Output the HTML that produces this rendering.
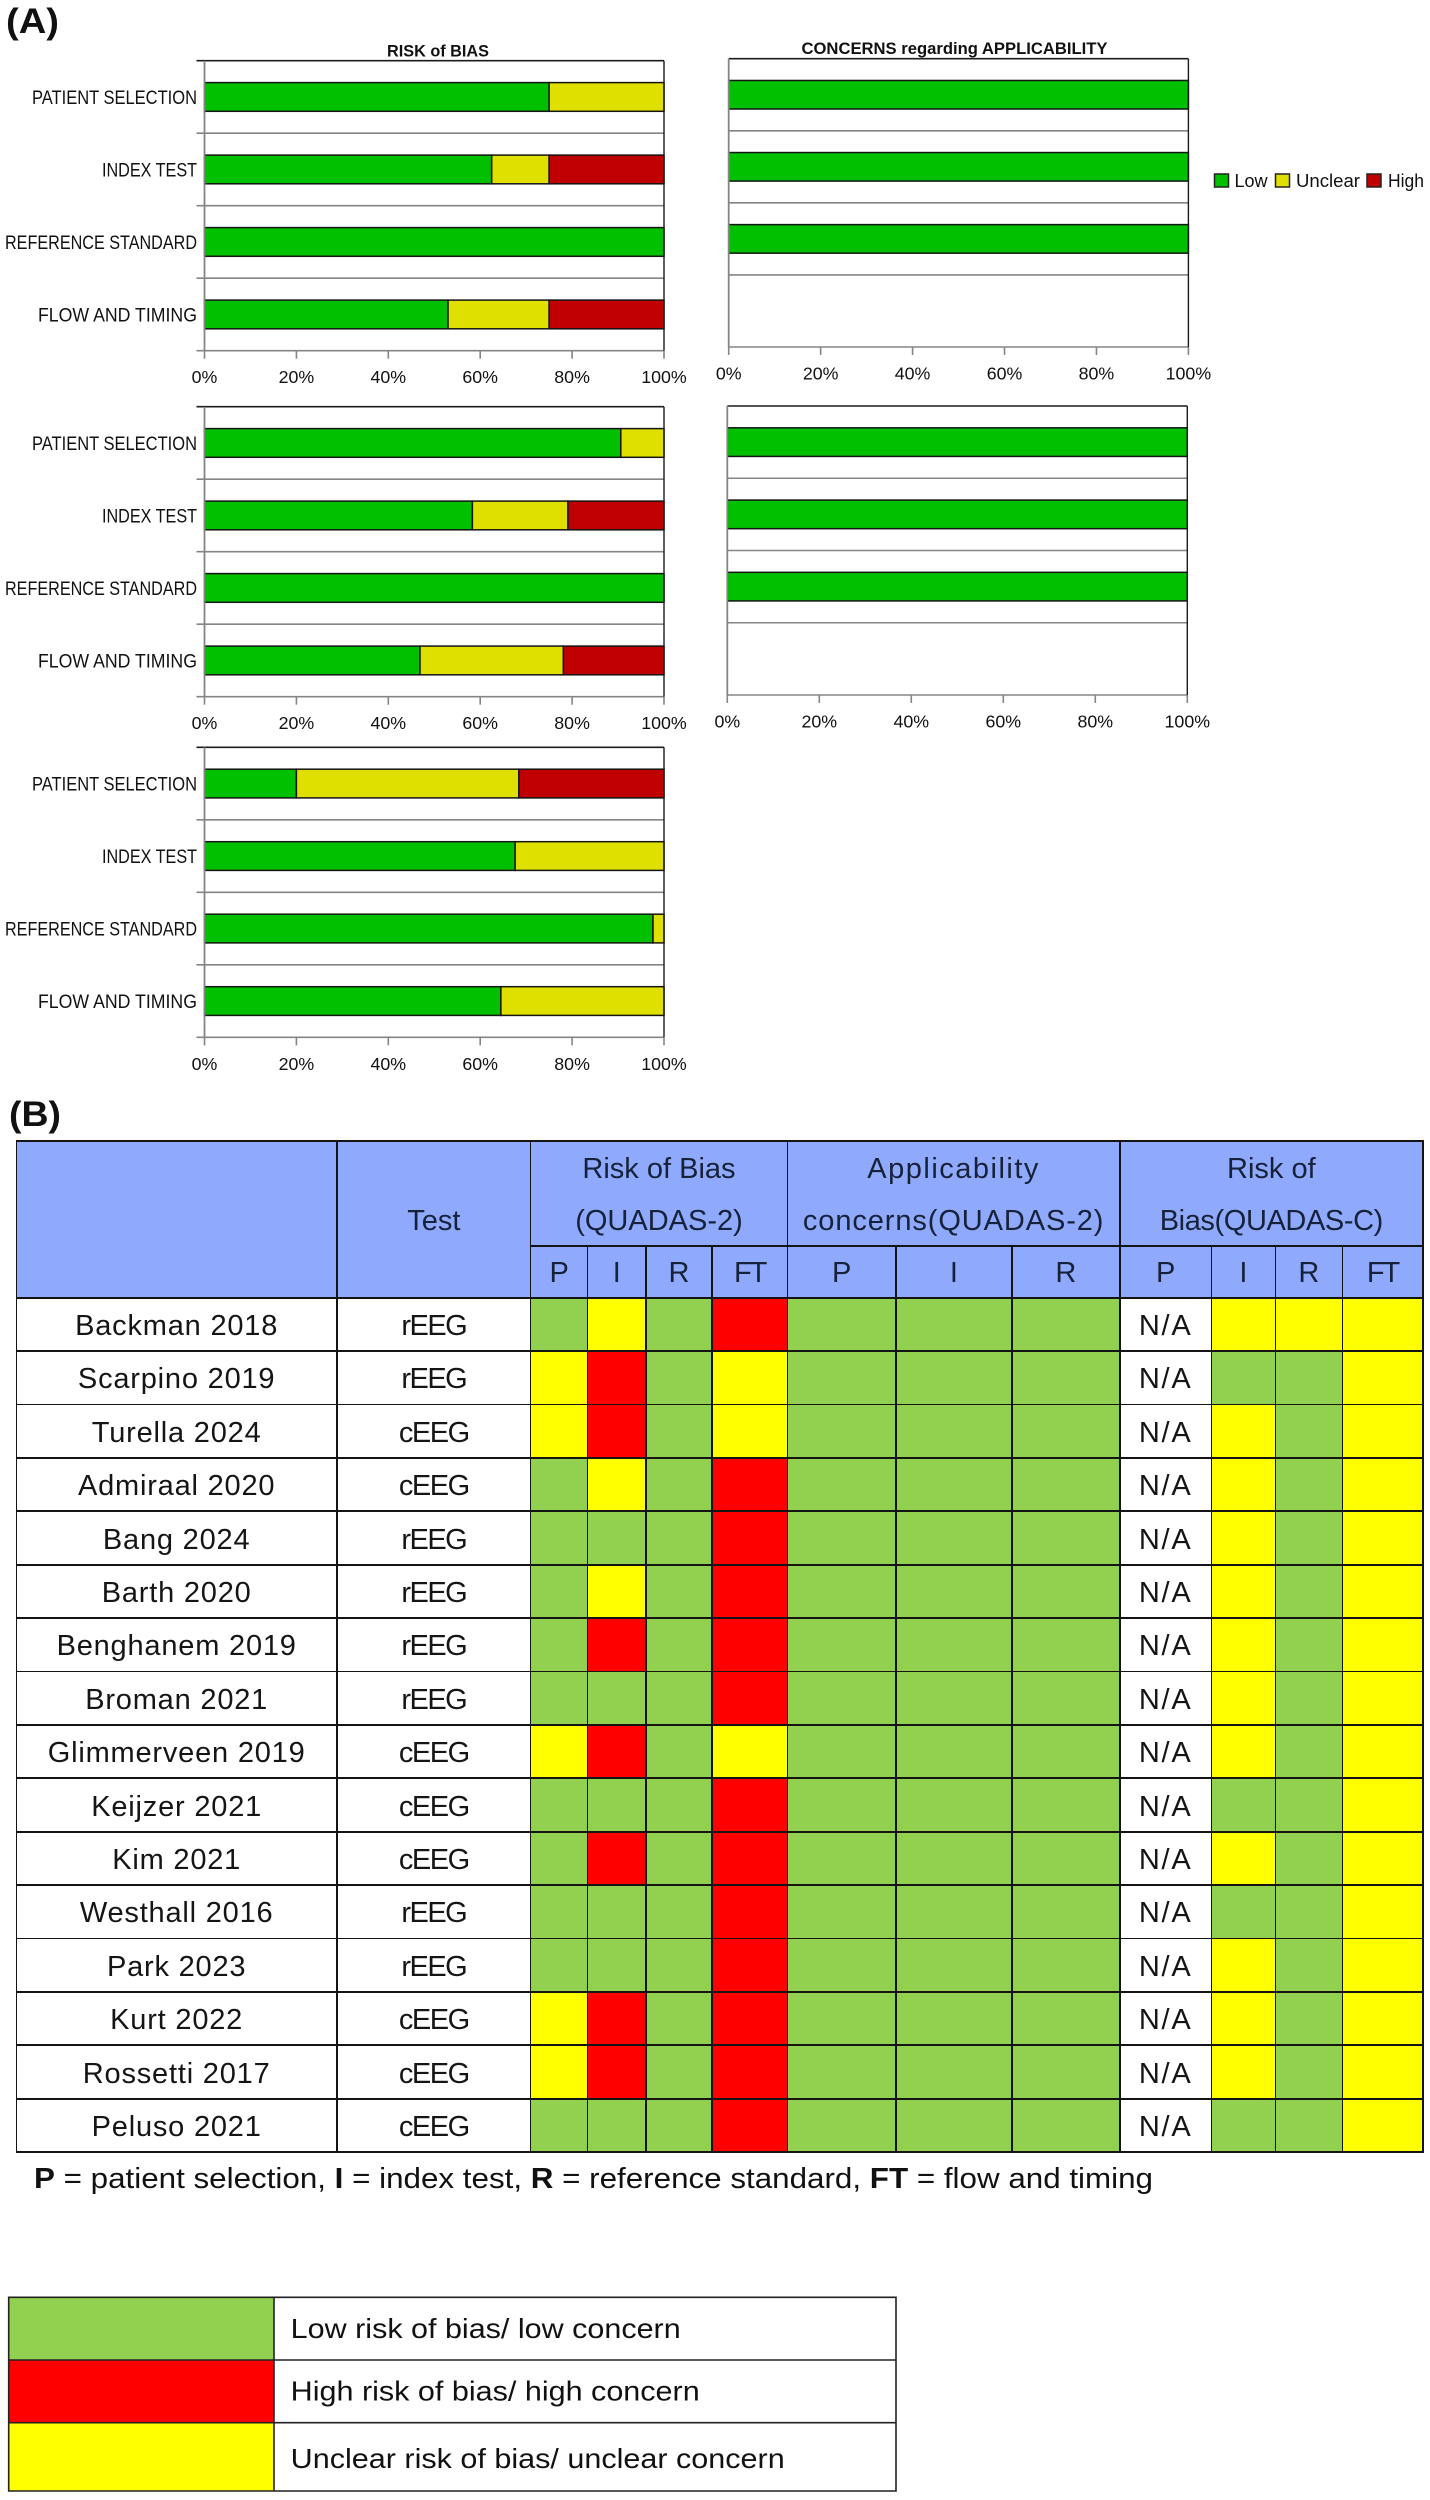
<!DOCTYPE html>
<html lang="en">
<head>
<meta charset="utf-8">
<title>Risk of bias and applicability assessment</title>
<style>
  html, body { margin: 0; padding: 0; background: #fff; }
  #page { position: relative; width: 1430px; height: 2500px; overflow: hidden; background: #fff;
          font-family: "Liberation Sans", sans-serif; color: #111; }
  #overlay { position: absolute; left: 0; top: 0; }
  #overlay text { font-family: "Liberation Sans", sans-serif; fill: #111; }
  #quality-grid { position: absolute; left: 15.5px; top: 1140px; display: inline-grid;
    padding: 1.9px 1.5px 1.9px 1.5px; background: #141414;
    column-gap: 1.4px; row-gap: 1.8px;
    grid-template-columns: 319.3px 192.2px 55.7px 56.9px 64.6px 74.1px 107.1px 114.6px 106.6px 90.3px 62.4px 65.6px 79.1px;
    grid-template-rows: 102.9px 50.2px repeat(16, 51.61px); }
  .cell { display: flex; align-items: center; justify-content: center; text-align: center;
    box-sizing: border-box; padding-top: 3px;
    font-size: 29px; line-height: 52px; white-space: nowrap; overflow: hidden; color: #151515; }
  .head { background: #8faafc; color: #16213a; }
  .name { background: #fff; letter-spacing: 0.8px; }
  .test { background: #fff; letter-spacing: -1.5px; }
  .na { background: #fff; letter-spacing: 1.8px; }
  .L { background: #92d050; }
  .H { background: #ff0000; }
  .U { background: #ffff00; }
  .sp1 { letter-spacing: 1.5px; }
  .sp2 { letter-spacing: 0.9px; }
  .sp3 { letter-spacing: -0.4px; }
  .ft { letter-spacing: -2px; }
</style>
</head>
<body>
<div id="page">
  <svg id="overlay" width="1430" height="2500" viewBox="0 0 1430 2500">
    <text x="6" y="33" font-size="35" font-weight="700" textLength="53" lengthAdjust="spacingAndGlyphs">(A)</text>
    <text x="9" y="1126" font-size="35" font-weight="700" textLength="52" lengthAdjust="spacingAndGlyphs">(B)</text>
    <text x="387" y="56.5" font-size="17" font-weight="700" textLength="102" lengthAdjust="spacingAndGlyphs">RISK of BIAS</text>
    <text x="801.5" y="54" font-size="17" font-weight="700" textLength="306" lengthAdjust="spacingAndGlyphs">CONCERNS regarding APPLICABILITY</text>

    <g>
      <rect x="1214.5" y="174" width="14" height="13" fill="#00c000" stroke="#222" stroke-width="1.5"/>
      <text x="1234.5" y="187" font-size="18">Low</text>
      <rect x="1275.5" y="174" width="14" height="13" fill="#e0e000" stroke="#222" stroke-width="1.5"/>
      <text x="1296" y="187" font-size="18" textLength="64" lengthAdjust="spacingAndGlyphs">Unclear</text>
      <rect x="1367" y="174" width="14" height="13" fill="#c00000" stroke="#222" stroke-width="1.5"/>
      <text x="1388" y="187" font-size="18" textLength="36" lengthAdjust="spacingAndGlyphs">High</text>
    </g>

    <text x="34" y="2188" font-size="29" textLength="1119" lengthAdjust="spacingAndGlyphs"><tspan font-weight="700">P</tspan> = patient selection, <tspan font-weight="700">I</tspan> = index test, <tspan font-weight="700">R</tspan> = reference standard, <tspan font-weight="700">FT</tspan> = flow and timing</text>

    <g>
      <rect x="8.7" y="2297.3" width="265.3" height="62.7" fill="#92d050"/>
      <rect x="8.7" y="2360" width="265.3" height="62.7" fill="#ff0000"/>
      <rect x="8.7" y="2422.7" width="265.3" height="68.3" fill="#ffff00"/>
      <path d="M8.7 2297.3H896V2491H8.7ZM8.7 2360H896M8.7 2422.7H896M274 2297.3V2491" fill="none" stroke="#222" stroke-width="1.6"/>
      <text x="290.7" y="2338" font-size="27.5" textLength="390" lengthAdjust="spacingAndGlyphs">Low risk of bias/ low concern</text>
      <text x="290.7" y="2400.7" font-size="27.5" textLength="409" lengthAdjust="spacingAndGlyphs">High risk of bias/ high concern</text>
      <text x="290.7" y="2468" font-size="27.5" textLength="494" lengthAdjust="spacingAndGlyphs">Unclear risk of bias/ unclear concern</text>
    </g>
    <g id="charts"></g>
  </svg>

  <div id="quality-grid">
    <div class="cell head" style="grid-column:1;grid-row:1/3"></div>
    <div class="cell head" style="grid-column:2;grid-row:1/3">Test</div>
    <div class="cell head" style="grid-column:3/7;grid-row:1"><div>Risk of Bias<br>(QUADAS-2)</div></div>
    <div class="cell head" style="grid-column:7/10;grid-row:1"><div><span class="sp1">Applicability</span><br><span class="sp2">concerns(QUADAS-2)</span></div></div>
    <div class="cell head" style="grid-column:10/14;grid-row:1"><div>Risk of<br><span class="sp3">Bias(QUADAS-C)</span></div></div>
  </div>
</div>

<script>
// ---------- Panel A data (percent of studies) ----------
const domainLabels = ["PATIENT SELECTION", "INDEX TEST", "REFERENCE STANDARD", "FLOW AND TIMING"];
const percentTicks = [0, 20, 40, 60, 80, 100];

const quadas2BiasLow = [75, 62.5, 100, 53];
const quadas2BiasUnclear = [25, 12.5, 0, 22];
const quadas2BiasHigh = [0, 25, 0, 25];

const quadas2ConcernLow = [100, 100, 100, 0];
const quadas2ConcernUnclear = [0, 0, 0, 0];
const quadas2ConcernHigh = [0, 0, 0, 0];

const secondBiasLow = [90.6, 58.3, 100, 46.9];
const secondBiasUnclear = [9.4, 20.8, 0, 31.2];
const secondBiasHigh = [0, 20.9, 0, 21.9];

const secondConcernLow = [100, 100, 100, 0];
const secondConcernUnclear = [0, 0, 0, 0];
const secondConcernHigh = [0, 0, 0, 0];

const quadasCLow = [20, 67.6, 97.6, 64.5];
const quadasCUnclear = [48.4, 32.4, 2.4, 35.5];
const quadasCHigh = [31.6, 0, 0, 0];

// ---------- Panel B data ----------
const studies = ["Backman 2018", "Scarpino 2019", "Turella 2024", "Admiraal 2020", "Bang 2024", "Barth 2020", "Benghanem 2019", "Broman 2021", "Glimmerveen 2019", "Keijzer 2021", "Kim 2021", "Westhall 2016", "Park 2023", "Kurt 2022", "Rossetti 2017", "Peluso 2021"];
const testTypes = ["rEEG", "rEEG", "cEEG", "cEEG", "rEEG", "rEEG", "rEEG", "rEEG", "cEEG", "cEEG", "cEEG", "rEEG", "rEEG", "cEEG", "cEEG", "cEEG"];
const subHeaders = ["P", "I", "R", "FT", "P", "I", "R", "P", "I", "R", "FT"];
// L = low, H = high, U = unclear, N = not applicable
const robP  = ["L","U","U","L","L","L","L","L","U","L","L","L","L","U","U","L"];
const robI  = ["U","H","H","U","L","U","H","L","H","L","H","L","L","H","H","L"];
const robR  = ["L","L","L","L","L","L","L","L","L","L","L","L","L","L","L","L"];
const robFT = ["H","U","U","H","H","H","H","H","U","H","H","H","H","H","H","H"];
const appP  = ["L","L","L","L","L","L","L","L","L","L","L","L","L","L","L","L"];
const appI  = ["L","L","L","L","L","L","L","L","L","L","L","L","L","L","L","L"];
const appR  = ["L","L","L","L","L","L","L","L","L","L","L","L","L","L","L","L"];
const robCP = ["N","N","N","N","N","N","N","N","N","N","N","N","N","N","N","N"];
const robCI = ["U","L","U","U","U","U","U","U","U","L","U","L","U","U","U","L"];
const robCR = ["U","L","L","L","L","L","L","L","L","L","L","L","L","L","L","L"];
const robCFT = ["U","U","U","U","U","U","U","U","U","U","U","U","U","U","U","U"];

const SVG_NS = "http://www.w3.org/2000/svg";
const chartsRoot = document.getElementById("charts");

function svgEl(tag, attrs, parent) {
  const node = document.createElementNS(SVG_NS, tag);
  for (const key in attrs) node.setAttribute(key, attrs[key]);
  parent.appendChild(node);
  return node;
}

function labelWidth(label) {
  if (label === "PATIENT SELECTION") return 165;
  if (label === "INDEX TEST") return 95;
  if (label === "REFERENCE STANDARD") return 192;
  return 159;
}

function drawPanel(panel) {
  const xScale = v => panel.x0 + (panel.x1 - panel.x0) * v / 100;
  const bandHeight = (panel.yBottom - panel.yTop) / domainLabels.length;
  const yBand = i => panel.yTop + i * bandHeight;

  const group = svgEl("g", {}, chartsRoot);
  
  

  // category separator lines and left ticks
  for (let i = 1; i <= domainLabels.length; i++) {
    const line = svgEl("line", { x1: panel.showLabels ? panel.x0 - 8 : panel.x0, x2: panel.x1, y1: yBand(i), y2: yBand(i), stroke: "#858585", "stroke-width": 1.6 }, group);
    
    
  }

  // stacked bars
  const series = [
    { values: panel.low, fill: "#00c000", label: "low" },
    { values: panel.unclear, fill: "#e0e000", label: "unclear" },
    { values: panel.high, fill: "#c00000", label: "high" }
  ];
  domainLabels.forEach((label, i) => {
    let running = 0;
    const barTop = yBand(i) + bandHeight * 0.302;
    const barHeight = bandHeight * 0.396;
    series.forEach(s => {
      const v = s.values[i];
      if (v > 0) {
        const bar = svgEl("rect", { x: xScale(running), y: barTop, width: xScale(running + v) - xScale(running), height: barHeight, fill: s.fill, stroke: "#141414", "stroke-width": 1.5 }, group);
        
        
      }
      running += v;
    });
    if (panel.showLabels) {
      const text = svgEl("text", { x: panel.x0 - 7.5 - labelWidth(label), y: yBand(i) + bandHeight / 2 + 6.8, "font-size": 19, textLength: labelWidth(label), lengthAdjust: "spacingAndGlyphs" }, group);
      text.textContent = label;
      
      
    }
  });

  // frame
  const topLine = svgEl("line", { x1: panel.showLabels ? panel.x0 - 8 : panel.x0, x2: panel.x1, y1: panel.yTop, y2: panel.yTop, stroke: "#1c1c1c", "stroke-width": 1.6 }, group);
  
  
  const leftAxis = svgEl("line", { x1: panel.x0, x2: panel.x0, y1: panel.yTop, y2: panel.yBottom, stroke: "#858585", "stroke-width": 1.8 }, group);
  
  
  const rightBorder = svgEl("line", { x1: panel.x1, x2: panel.x1, y1: panel.yTop, y2: panel.yBottom, stroke: "#1c1c1c", "stroke-width": 1.4 }, group);
  
  

  // x axis ticks
  percentTicks.forEach(t => {
    const tick = svgEl("line", { x1: xScale(t), x2: xScale(t), y1: panel.yBottom, y2: panel.yBottom + 8, stroke: "#858585", "stroke-width": 1.6 }, group);
    
    
    const tickLabel = svgEl("text", { x: xScale(t), y: panel.yBottom + 32.5, "font-size": 17.8, "text-anchor": "middle" }, group);
    tickLabel.textContent = t + "%";
    
    
  });
}

drawPanel({ name: "quadas2-risk-of-bias-chart", x0: 204.5, x1: 664, yTop: 60.7, yBottom: 350.7, low: quadas2BiasLow, unclear: quadas2BiasUnclear, high: quadas2BiasHigh, showLabels: true });
drawPanel({ name: "quadas2-applicability-chart", x0: 728.7, x1: 1188.4, yTop: 58.7, yBottom: 347, low: quadas2ConcernLow, unclear: quadas2ConcernUnclear, high: quadas2ConcernHigh, showLabels: false });
drawPanel({ name: "second-risk-of-bias-chart", x0: 204.5, x1: 664, yTop: 406.7, yBottom: 696.7, low: secondBiasLow, unclear: secondBiasUnclear, high: secondBiasHigh, showLabels: true });
drawPanel({ name: "second-applicability-chart", x0: 727.3, x1: 1187.3, yTop: 406, yBottom: 695, low: secondConcernLow, unclear: secondConcernUnclear, high: secondConcernHigh, showLabels: false });
drawPanel({ name: "quadas-c-risk-of-bias-chart", x0: 204.5, x1: 664, yTop: 747.3, yBottom: 1037.3, low: quadasCLow, unclear: quadasCUnclear, high: quadasCHigh, showLabels: true });

// ---------- Table ----------
const grid = document.getElementById("quality-grid");
const ratingColumns = [robP, robI, robR, robFT, appP, appI, appR, robCP, robCI, robCR, robCFT];
const ratingColumnStart = 3;
const headerRows = 2;

function gridCell(className, column, row, text) {
  const cell = document.createElement("div");
  cell.className = "cell " + className;
  cell.style.gridColumn = column;
  cell.style.gridRow = row;
  if (text) cell.textContent = text;
  grid.appendChild(cell);
  return cell;
}

subHeaders.forEach((label, c) => {
  const cell = gridCell("head" + (label === "FT" ? " ft" : ""), ratingColumnStart + c, 2, label);
  
  
});

studies.forEach((study, r) => {
  const row = headerRows + r + 1;
  const nameCell = gridCell("name", 1, row, study);
  
  
  const testCell = gridCell("test", 2, row, testTypes[r]);
  
  
  ratingColumns.forEach((column, c) => {
    const rating = column[r];
    const cell = gridCell(rating === "N" ? "na" : rating, ratingColumnStart + c, row, rating === "N" ? "N/A" : "");
    
    
  });
});
</script>
</body>
</html>
